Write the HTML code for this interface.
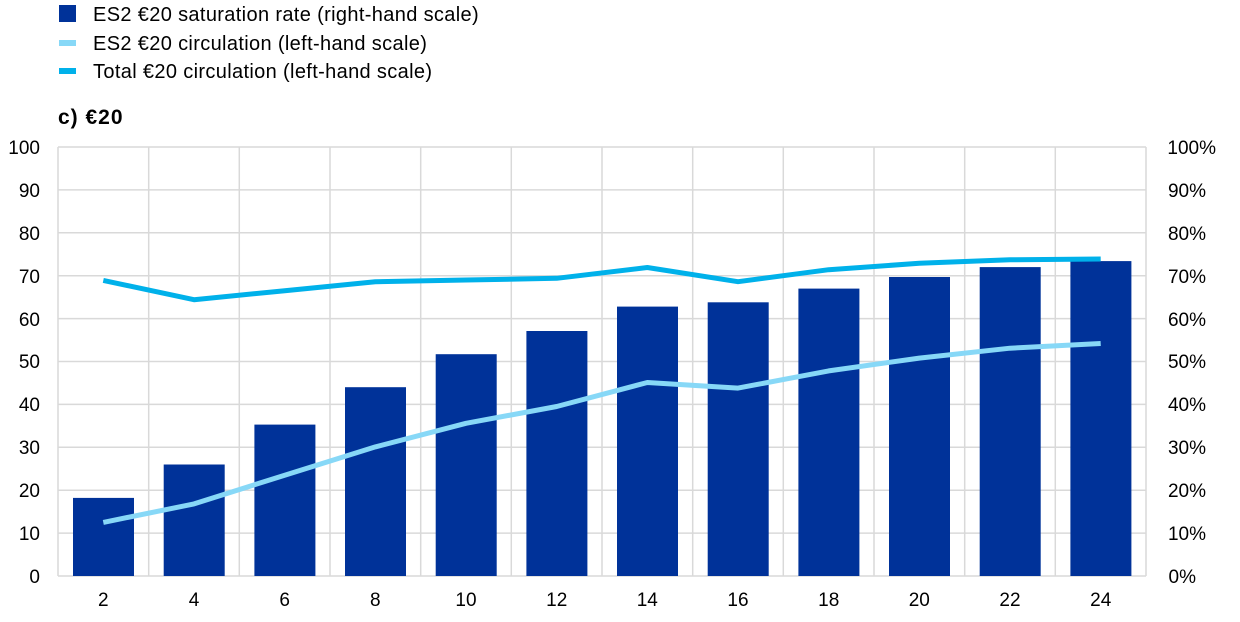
<!DOCTYPE html>
<html><head><meta charset="utf-8"><style>
body{margin:0;background:#fff;}
svg{display:block;font-family:"Liberation Sans",Arial,sans-serif;}
</style></head><body>
<svg width="1240" height="622" viewBox="0 0 1240 622">
<rect x="59" y="5" width="17" height="17" fill="#003299"/>
<rect x="59" y="40" width="17" height="6" fill="#87d8f7"/>
<rect x="59" y="68" width="17" height="6" fill="#00b1ea"/>
<g font-size="20" fill="#000" letter-spacing="0.35">
<text x="93" y="21">ES2 €20 saturation rate (right-hand scale)</text>
<text x="93" y="50">ES2 €20 circulation (left-hand scale)</text>
<text x="93" y="78">Total €20 circulation (left-hand scale)</text>
</g>
<text x="58" y="124" font-weight="bold" font-size="21" letter-spacing="1">c) €20</text>
<g stroke="#d9d9d9" stroke-width="1.5">
<line x1="58" y1="147" x2="1146" y2="147"/><line x1="58" y1="189.9" x2="1146" y2="189.9"/><line x1="58" y1="232.8" x2="1146" y2="232.8"/><line x1="58" y1="275.7" x2="1146" y2="275.7"/><line x1="58" y1="318.6" x2="1146" y2="318.6"/><line x1="58" y1="361.5" x2="1146" y2="361.5"/><line x1="58" y1="404.4" x2="1146" y2="404.4"/><line x1="58" y1="447.3" x2="1146" y2="447.3"/><line x1="58" y1="490.2" x2="1146" y2="490.2"/><line x1="58" y1="533.1" x2="1146" y2="533.1"/><line x1="58" y1="576" x2="1146" y2="576"/>
<line x1="58" y1="147" x2="58" y2="576"/><line x1="148.7" y1="147" x2="148.7" y2="576"/><line x1="239.3" y1="147" x2="239.3" y2="576"/><line x1="330" y1="147" x2="330" y2="576"/><line x1="420.7" y1="147" x2="420.7" y2="576"/><line x1="511.3" y1="147" x2="511.3" y2="576"/><line x1="602" y1="147" x2="602" y2="576"/><line x1="692.7" y1="147" x2="692.7" y2="576"/><line x1="783.3" y1="147" x2="783.3" y2="576"/><line x1="874" y1="147" x2="874" y2="576"/><line x1="964.7" y1="147" x2="964.7" y2="576"/><line x1="1055.3" y1="147" x2="1055.3" y2="576"/><line x1="1146" y1="147" x2="1146" y2="576"/>
</g>
<g fill="#003299">
<rect x="73" y="497.9" width="61" height="78.1"/>
<rect x="163.7" y="464.5" width="61" height="111.5"/>
<rect x="254.4" y="424.6" width="61" height="151.4"/>
<rect x="345" y="387.2" width="61" height="188.8"/>
<rect x="435.7" y="354.2" width="61" height="221.8"/>
<rect x="526.4" y="331" width="61" height="245"/>
<rect x="617" y="306.6" width="61" height="269.4"/>
<rect x="707.7" y="302.3" width="61" height="273.7"/>
<rect x="798.4" y="288.6" width="61" height="287.4"/>
<rect x="889" y="277" width="61" height="299"/>
<rect x="979.7" y="267.1" width="61" height="308.9"/>
<rect x="1070.4" y="261.1" width="61" height="314.9"/>
</g>
<polyline fill="none" stroke="#87d8f7" stroke-width="5" stroke-linejoin="round" points="103.3,522.4 194,503.9 284.7,475.2 375.3,446.9 466,423.3 556.7,406.5 647.3,382.5 738,388.1 828.7,370.9 919.3,358.1 1010,348.2 1100.7,343.5"/>
<polyline fill="none" stroke="#00b1ea" stroke-width="5" stroke-linejoin="round" points="103.3,280.4 194,299.7 284.7,290.7 375.3,281.7 466,280 556.7,278.3 647.3,267.5 738,281.7 828.7,269.7 919.3,263.3 1010,259.8 1100.7,259"/>
<g font-size="19" fill="#000" text-anchor="end">
<text x="40" y="154">100</text><text x="40" y="197">90</text><text x="40" y="240">80</text><text x="40" y="283">70</text><text x="40" y="326">60</text><text x="40" y="368">50</text><text x="40" y="411">40</text><text x="40" y="454">30</text><text x="40" y="497">20</text><text x="40" y="540">10</text><text x="40" y="583">0</text>
</g>
<g font-size="19" fill="#000" text-anchor="end">
<text x="1216" y="154">100%</text><text x="1206" y="197">90%</text><text x="1206" y="240">80%</text><text x="1206" y="283">70%</text><text x="1206" y="326">60%</text><text x="1206" y="368">50%</text><text x="1206" y="411">40%</text><text x="1206" y="454">30%</text><text x="1206" y="497">20%</text><text x="1206" y="540">10%</text><text x="1196" y="583">0%</text>
</g>
<g font-size="19" fill="#000" text-anchor="middle">
<text x="103.3" y="606">2</text><text x="194" y="606">4</text><text x="284.7" y="606">6</text><text x="375.3" y="606">8</text><text x="466" y="606">10</text><text x="556.7" y="606">12</text><text x="647.3" y="606">14</text><text x="738" y="606">16</text><text x="828.7" y="606">18</text><text x="919.3" y="606">20</text><text x="1010" y="606">22</text><text x="1100.7" y="606">24</text>
</g>
</svg>
</body></html>
